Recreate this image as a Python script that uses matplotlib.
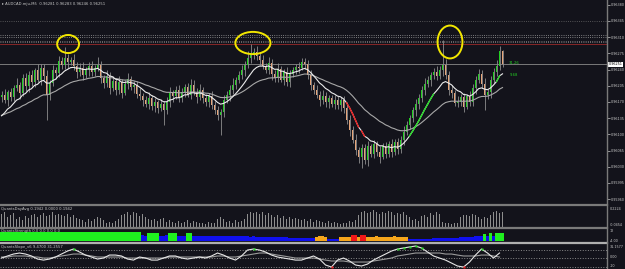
import numpy as np
import pandas as pd
import matplotlib
matplotlib.use('Agg')
from matplotlib import pyplot as plt
from matplotlib.patches import Ellipse
from matplotlib.lines import Line2D

# ---- data (prices in 1e-5 points) ----
first_open = 96180
close = [96185, 96174, 96191, 96180, 96200, 96207, 96190, 96221, 96204, 96228,
         96212, 96238, 96218, 96243, 96226, 96185, 96210, 96240, 96232, 96258,
         96250, 96265, 96256, 96261, 96248, 96235, 96243, 96228, 96239, 96248,
         96235, 96243, 96250, 96222, 96210, 96226, 96200, 96216, 96195, 96212,
         96190, 96208, 96220, 96203, 96206, 96188, 96183, 96174, 96165, 96178,
         96161, 96169, 96156, 96165, 96152, 96170, 96190, 96182, 96196, 96178,
         96192, 96203, 96186, 96207, 96192, 96180, 96196, 96178, 96170, 96182,
         96163, 96152, 96142, 96148, 96174, 96185, 96196, 96207, 96217, 96228,
         96239, 96250, 96265, 96271, 96278, 96269, 96261, 96248, 96240, 96255,
         96230, 96222, 96242, 96218, 96234, 96212, 96230, 96238, 96246, 96244,
         96256, 96252, 96228, 96207, 96196, 96185, 96174, 96183, 96169, 96178,
         96165, 96174, 96163, 96174, 96156, 96131, 96109, 96088, 96066, 96050,
         96070, 96044, 96074, 96058, 96078, 96062, 96052, 96075, 96058, 96078,
         96062, 96083, 96068, 96088, 96105, 96120, 96135, 96152, 96165, 96178,
         96196, 96209, 96217, 96228, 96235, 96226, 96239, 96250, 96228, 96196,
         96190, 96168, 96170, 96180, 96160, 96182, 96170, 96200, 96217, 96230,
         96209, 96185, 96191, 96217, 96235, 96248, 96281, 96251]
hi_wick = [8, 12, 5, 10, 7, 14, 6, 9, 11, 8,
           10, 6, 13, 8, 9, 12, 7, 10, 6, 11,
           8, 24, 9, 6, 12, 8, 10, 14, 6, 8,
           11, 7, 17, 9, 6, 12, 8, 10, 5, 13,
           8, 10, 12, 6, 9, 10, 12, 6, 8, 14,
           7, 10, 6, 12, 8, 10, 13, 6, 8, 11,
           9, 6, 8, 12, 10, 7, 13, 6, 9, 8,
           12, 8, 10, 6, 12, 8, 10, 14, 7, 9,
           11, 8, 14, 25, 9, 12, 8, 10, 6, 11,
           8, 10, 13, 6, 8, 12, 9, 8, 6, 11,
           9, 9, 8, 12, 6, 10, 8, 12, 9, 6,
           8, 12, 9, 6, 8, 13, 10, 8, 12, 6,
           9, 8, 12, 6, 10, 8, 13, 6, 9, 8,
           12, 6, 10, 8, 12, 9, 6, 8, 12, 10,
           8, 12, 10, 6, 8, 13, 9, 54, 12, 8,
           10, 6, 12, 8, 10, 6, 12, 8, 10, 11,
           8, 12, 6, 10, 8, 12, 9, 2]
lo_wick = [10, 6, 12, 8, 9, 6, 13, 8, 10, 12,
           8, 10, 6, 12, 8, 54, 10, 6, 12, 8,
           9, 8, 12, 6, 10, 13, 8, 10, 6, 12,
           8, 10, 6, 12, 9, 8, 12, 6, 10, 8,
           12, 6, 10, 8, 13, 9, 8, 12, 6, 10,
           8, 12, 10, 6, 32, 8, 10, 12, 6, 9,
           8, 12, 6, 10, 8, 13, 6, 10, 8, 12,
           9, 8, 12, 43, 10, 6, 12, 8, 10, 6,
           8, 12, 6, 10, 8, 9, 12, 6, 8, 10,
           12, 8, 10, 6, 12, 8, 10, 6, 8, 12,
           6, 10, 8, 12, 9, 6, 13, 8, 10, 12,
           6, 10, 8, 12, 9, 8, 12, 6, 10, 13,
           22, 8, 12, 6, 10, 8, 13, 6, 10, 8,
           12, 6, 10, 8, 12, 6, 9, 8, 12, 10,
           8, 10, 6, 12, 8, 9, 6, 12, 8, 10,
           12, 6, 10, 8, 12, 6, 9, 8, 12, 6,
           9, 33, 8, 12, 6, 10, 8, 5]
fast_seed, slow_seed = 96130, 96138

price_ticks = [0.96380, 0.96345, 0.96310, 0.96275, 0.96240, 0.96205, 0.96170,
               0.96135, 0.96100, 0.96065, 0.96030, 0.95995, 0.95960]
level_lines = [(0.963448, '#6a6a6a', ':'), (0.963146, '#a0a0a0', ':'),
               (0.963113, '#a0a0a0', ':'), (0.963016, '#8a8a8a', ':'),
               (0.962995, '#8a8a8a', ':'), (0.962958, '#9a2a2a', '-')]
# circled highs: candle index, price, width (candles), height (price)
circles = [(22.2, 0.962951, 7.3, 0.00039), (83.8, 0.962973, 11.7, 0.00048),
           (149.5, 0.962995, 8.3, 0.00071)]

day_avg = [0.16, 0.18, 0.12, 0.15, 0.17, 0.10, 0.12, 0.08, 0.13, 0.11,
           0.14, 0.16, 0.12, 0.15, 0.17, 0.13, 0.15, 0.18, 0.14, 0.16,
           0.15, 0.13, 0.16, 0.12, 0.14, 0.11, 0.10, 0.08, 0.06, 0.09,
           0.07, 0.10, 0.12, 0.11, 0.08, 0.05, 0.06, 0.04, 0.07, 0.09,
           0.14, 0.16, 0.18, 0.15, 0.19, 0.17, 0.13, 0.16, 0.12, 0.10,
           0.08, 0.10, 0.07, 0.09, 0.11, 0.06, 0.08, 0.06, 0.05, 0.07,
           0.04, 0.06, 0.08, 0.05, 0.07, 0.06, 0.04, 0.05, 0.03, 0.06,
           0.04, 0.05, 0.10, 0.12, 0.09, 0.06, 0.07, 0.05, 0.08, 0.06,
           0.07, 0.10, 0.16, 0.18, 0.17, 0.19, 0.16, 0.18, 0.15, 0.17,
           0.14, 0.12, 0.15, 0.11, 0.13, 0.10, 0.12, 0.09, 0.11, 0.10,
           0.08, 0.10, 0.07, 0.09, 0.06, 0.08, 0.07, 0.06, 0.05, 0.07,
           0.04, 0.06, 0.05, 0.03, 0.04, 0.05, 0.07, 0.06, 0.08, 0.14,
           0.18, 0.20, 0.17, 0.19, 0.21, 0.18, 0.16, 0.19, 0.17, 0.20,
           0.18, 0.15, 0.17, 0.16, 0.18, 0.14, 0.12, 0.08, 0.10, 0.07,
           0.13, 0.15, 0.12, 0.17, 0.14, 0.19, 0.16, 0.06, 0.04, 0.05,
           0.03, 0.05, 0.04, 0.12, 0.14, 0.15, 0.13, 0.16, 0.14, 0.12,
           0.10, 0.12, 0.11, 0.15, 0.18, 0.20, 0.17, 0.19]

strength = [9.5, 9.6, 9.4, 9.7, 9.8, 9.6, 9.5, 9.7, 9.8, 9.9,
            9.7, 9.8, 9.6, 9.9, 10, 9.8, 9.7, 9.9, 10, 9.8,
            9.9, 10.1, 10, 9.8, 9.9, 10, 10.1, 9.9, 10, 9.8,
            9.9, 10, 10.2, 10, 9.9, 10.1, 10, 9.8, 9.7, 9.9,
            9.6, 9.8, 9.5, 9.7, 9.4, 9.6, 9.3,
            6.2, 6.0, 9.0, 9.2, 8.8, 9.0, 6.0, 5.8, 6.1, 8.8, 8.6, 8.7, 5.9, 6.0, 5.8, 8.5, 8.4,
            5.8, 5.9, 6.0, 5.7, 5.8, 5.6, 5.7, 5.5, 5.6, 5.4,
            5.5, 5.6, 5.4, 5.3, 5.5, 5.2, 5.3, 5.1, 5.0, 4.9,
            5.0, 4.8, 4.7, 4.6, 4.5, 4.4, 4.3, 4.2, 4.1, 4.0,
            4.0, 3.9, 3.8, 3.8, 3.7, 3.6, 3.6, 3.5, 3.5, 3.4, 3.4,
            4.8, 5.0, 5.0, 4.9, 2.2, 2.0, 2.1, 2.3, 4.5, 4.6, 4.7, 4.7,
            6.5, 6.6, 4.8, 6.6, 6.5,
            4.8, 4.9, 4.9, 5.0, 4.9, 4.8, 4.8, 4.9, 4.9, 5.0, 4.9, 4.8, 4.8, 4.7,
            2.2, 2.3, 2.4, 2.4, 2.5, 2.6, 2.6, 2.7, 2.8, 2.9,
            3.0, 3.1, 3.2, 3.3, 3.5, 3.6, 3.8, 4.0, 4.2, 4.4,
            4.6, 4.8, 5.0, 5.2, 5.4,
            8.0, 5.6, 8.2, 5.8, 8.5, 8.7, 8.8]
strength_state = ('G' * 47 + 'BBGGGGBBBGGGBBBGG' + 'B' * 41 + 'OOOOBBBBOOOO'
                  + 'RRORR' + 'O' * 14 + 'B' * 25 + 'GBGB' + 'GGG')
state_colors = {'G': '#1ff01f', 'B': '#1010ee', 'O': '#f6a61c', 'R': '#f21818'}

# slope oscillator, one value every second candle
slope_fast = [0, 2.4, 4.7, 5.9, 4.7, 2.4, -1.2, -2.4, -1.2, 1.2,
              4.7, 8.2, 10.6, 7.1, 3.5, 1.2, -1.2, 0, 3.5, 3.5,
              2.4, -1.2, -2.4, 1.2, 0, -2.4, -2.4, 0, 2.4, 2.4,
              0, -1.2, 0, 1.2, 0, 2.4, 5.9, 3.5, 0, -2.4,
              2.4, 9.4, 10.6, 9.4, 7.1, 3.5, 1.2, 0, -1.2, -2.4,
              -2.4, 0, 2.4, -1.2, -8.2, -10.6, -2.4, 0, -3.5, -8.2,
              -9.4, -7.1, -2.4, 1.2, 4.7, 8.2, 10.6, 11.8, 13.0, 14.1,
              11.8, 7.1, 2.4, 0, -2.4, -5.9, -9.4, -10.6, -4.7, 3.5,
              10.6, 5.9, 0, 5.9]
slope_slow = [1.2, 1.2, 2.4, 2.4, 2.4, 1.2, 1.2, 0, 0, 1.2,
              2.4, 3.5, 4.7, 4.7, 3.5, 2.4, 1.2, 1.2, 1.2, 1.2,
              1.2, 0, 0, 0, 0, 0, 0, 0, 1.2, 1.2,
              1.2, 1.2, 1.2, 1.2, 1.2, 1.2, 2.4, 2.4, 1.2, 1.2,
              2.4, 3.5, 4.7, 5.9, 5.9, 4.7, 3.5, 2.4, 1.2, 0,
              0, 0, 0, -1.2, -2.4, -3.5, -3.5, -3.5, -4.7, -4.7,
              -4.7, -4.7, -3.5, -2.4, -1.2, 0, 2.4, 3.5, 4.7, 5.9,
              5.9, 5.9, 5.9, 5.9, 4.7, 4.7, 3.5, 2.4, 2.4, 2.4,
              3.5, 3.5, 2.4, 1.2]

title = 'AUDCAD.mju,M5  0.96281 0.96283 0.96246 0.96251'
fs = 2.7
fs_r = 2.45

# ---- figure ----
bg = '#13131b'
fg = '#c8c8c8'
W, H = 625, 269
fig = plt.figure(figsize=(W / 100, H / 100), dpi=100, facecolor=bg)
right = 607 / W


def panel(top, bottom):
    ax = fig.add_axes([0, 1 - bottom / H, right, (bottom - top) / H])
    ax.set_facecolor(bg)
    for s in ax.spines.values():
        s.set_visible(False)
    ax.set_xticks([])
    ax.set_yticks([])
    ax.set_xlim(-0.5, 201.83)
    return ax


ax = panel(0, 204)
ax_h = panel(206, 227)
ax_s = panel(229, 242)
ax_o = panel(244, 269)

c = np.array(close) / 1e5
o = np.concatenate([[first_open / 1e5], c[:-1]])
hi = np.maximum(o, c) + np.array(hi_wick) / 1e5
lo = np.minimum(o, c) - np.array(lo_wick) / 1e5
idx = np.arange(len(c))
up = c >= o

ax.vlines(idx, lo, hi, color='#8e8e8e', lw=0.6, zorder=2)
body_h = np.maximum(np.abs(c - o), 0.000015)
ax.bar(idx, body_h, bottom=np.minimum(o, c), width=0.66,
       color=np.where(up, '#22d022', '#e6a57a'), lw=0, zorder=3)

fast = pd.Series([fast_seed / 1e5] + list(c)).ewm(span=10, adjust=False).mean().values[1:]
slow = pd.Series([slow_seed / 1e5] + list(c)).ewm(span=30, adjust=False).mean().values[1:]
ax.plot(idx, slow, color='#a8a8a8', lw=0.8, zorder=4)
ax.plot(idx, fast, color='#ececec', lw=0.8, zorder=4)
d = np.diff(fast)
thr = 0.00010
for i in range(1, len(fast)):
    if d[i - 1] > thr or d[i - 1] < -thr:
        ax.plot([i - 1, i], [fast[i - 1], fast[i]], lw=0.9, zorder=5,
                color='#22e022' if d[i - 1] > 0 else '#f01818')

for y, col, ls in level_lines:
    ax.axhline(y, color=col, ls=ls, lw=0.6, zorder=1)
ax.axhline(c[-1], color='#7a7a7a', lw=0.7, zorder=1)

for cx, cy, w, h in circles:
    ax.add_patch(Ellipse((cx, cy), w, h, fill=False, ec='#f2e600', lw=1.4, zorder=6))

ax.set_ylim(0.959494, 0.963902)
ax.set_yticks(price_ticks)
ax.yaxis.tick_right()
ax.set_yticklabels(['%.5f' % p for p in price_ticks])
ax.tick_params(axis='y', labelsize=fs_r, colors=fg, length=2, width=0.5, pad=0.8)
ax.text(0.004, 0.99, '\u25b8 ' + title, transform=ax.transAxes, fontsize=fs,
        color=fg, va='top', ha='left')
ax.text(1.0 + 1.5 / 607, c[-1], '%.5f' % c[-1], transform=ax.get_yaxis_transform(),
        fontsize=fs_r, color='black', va='center', ha='left',
        bbox=dict(boxstyle='square,pad=0.15', fc='white', ec='none'))
ax.text(169, 0.96254, '31.26', fontsize=fs, color='#22d022', va='center')
ax.text(169.3, 0.96228, '9.68', fontsize=fs, color='#22d022', va='center')

# QuantsDayAvg histogram
ax_h.bar(idx, day_avg, width=0.6, color='#8e8e8e', lw=0)
ax_h.set_ylim(-0.006, 0.26)
ax_h.text(0.002, 0.96, 'QuantsDayAvg 0.1942 0.0000 0.1942', transform=ax_h.transAxes,
          fontsize=fs, color=fg, va='top')

# QuantsStrength
ax_s.bar(idx, strength, width=1.0, lw=0,
         color=[state_colors[s] for s in strength_state])
ax_s.set_ylim(-1.09, 13.09)
ax_s.text(0.002, 0.98, 'QuantsStrength 0.0 0.0 0.0 0.0', transform=ax_s.transAxes,
          fontsize=fs, color=fg, va='top')

# QuantsSlope
xs = np.arange(0, 2 * len(slope_fast), 2)
for lvl in (10, 0, -10):
    ax_o.axhline(lvl, color='#8a8a8a', ls=':', lw=0.7)
ax_o.plot(xs, slope_slow, color='#9a9a9a', lw=0.8)
ax_o.plot(xs, slope_fast, color='#e6e6e6', lw=0.8)
sf = np.array(slope_fast)
ax_o.plot(xs[sf > 10], sf[sf > 10], 's', ms=1.6, color='#22e022', mec='none')
ax_o.plot(xs[sf < -10], sf[sf < -10], 's', ms=1.6, color='#f01818', mec='none')
ax_o.set_ylim(-12.9, 16.5)
ax_o.text(0.002, 0.97, 'QuantsSlope_v6 9.4700 31.2557', transform=ax_o.transAxes,
          fontsize=fs, color=fg, va='top')

# right side scale texts for sub panels
lab = dict(fontsize=fs_r, color=fg, va='center', ha='left')
fig.text(610 / W, 1 - 209 / H, '0.2224', **lab)
fig.text(610 / W, 1 - 225.5 / H, '-0.0454', **lab)
fig.text(610 / W, 1 - 231 / H, '12', **lab)
fig.text(610 / W, 1 - 240.5 / H, '-4.00', **lab)
fig.text(610 / W, 1 - 246.5 / H, '31.1577', **lab)
fig.text(610 / W, 1 - 257.5 / H, '0.00', **lab)
fig.text(610 / W, 1 - 266 / H, '-10', **lab)

# panel separators and price-scale border
for yy, col in ((205, '#7a7a7a'), (228, '#7a7a7a'), (243, '#b0b0b0')):
    fig.add_artist(Line2D([0, right], [1 - yy / H] * 2, color=col, lw=1.6))
fig.add_artist(Line2D([right, right], [0, 1], color='#7a7a7a', lw=1.0))

fig.savefig('out.png', dpi=100, facecolor=bg)
